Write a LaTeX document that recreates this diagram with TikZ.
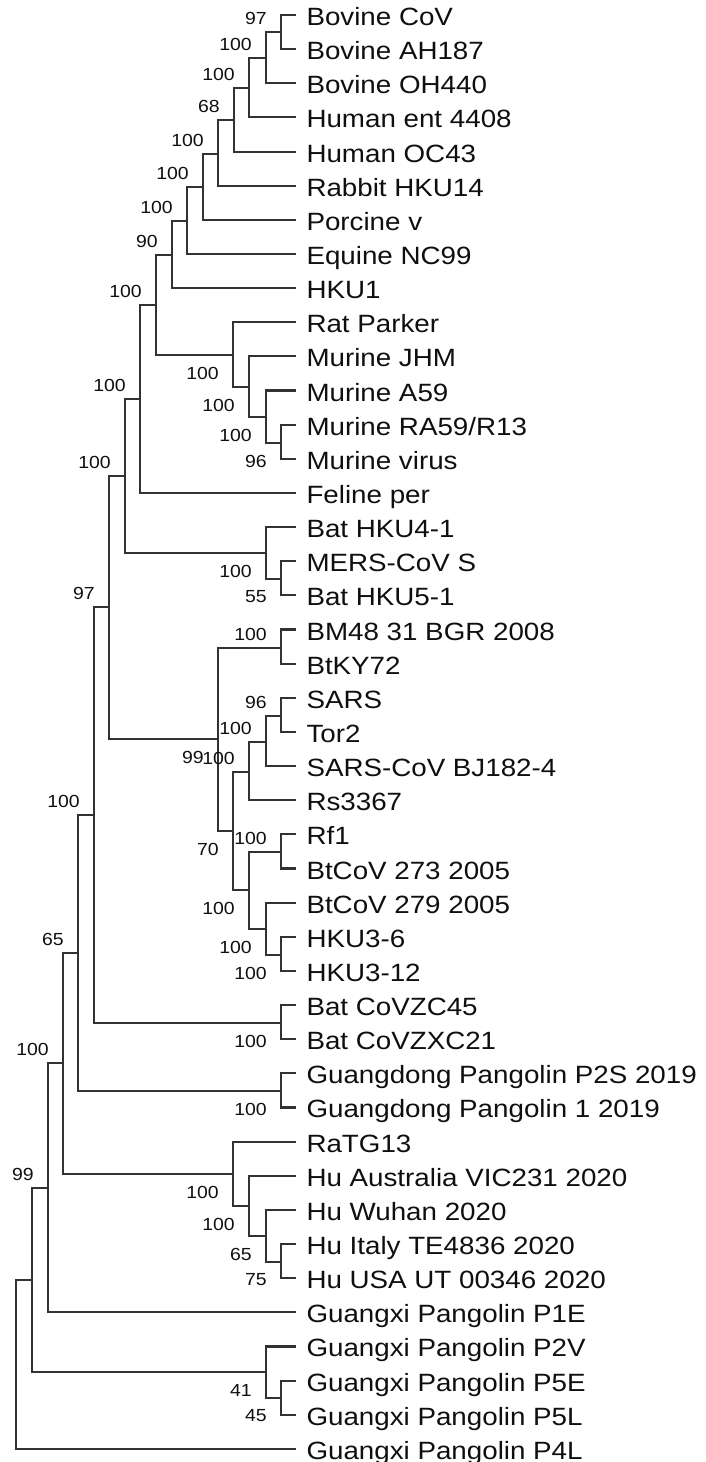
\documentclass[tikz,border=0pt]{standalone}
\usepackage{fontspec}
\setmainfont{Liberation Sans}[FakeStretch=1.11]
\definecolor{BranchGray}{RGB}{50,50,50}
\definecolor{LabelInk}{RGB}{15,15,15}
\usepackage{tikz}
\usetikzlibrary{positioning, calc}

\tikzset{
  taxon/.style={anchor=west, inner xsep=10.5pt, inner ysep=0pt, outer sep=0pt,
                text height=21pt, text depth=0pt, text=LabelInk,
                font=\fontsize{25}{30}\selectfont},
  boot/.style={anchor=east, inner sep=0pt, xshift=-14pt, text=LabelInk,
               font=\fontsize{17.5}{20}\selectfont},
  bootup/.style={boot, yshift=13.5pt},
  bootdn/.style={boot, yshift=-18pt},
  branch/.style={draw=BranchGray, line width=2.1pt}
}

\begin{document}
\begin{tikzpicture}[x=1pt, y=-1pt]
  \useasboundingbox (0,0) rectangle (706,1462);

  % taxa, one row each
  \foreach \name/\txt [count=\i] in {
      bovcov/Bovine CoV, bovah/Bovine AH187, bovoh/Bovine OH440,
      hument/Human ent 4408, humoc/Human OC43, rabbit/Rabbit HKU14,
      porcine/Porcine v, equine/Equine NC99, hkuone/HKU1,
      rat/Rat Parker, jhm/Murine JHM, afiftynine/Murine A59,
      rafiftynine/{Murine RA59/R13}, murvir/Murine virus, feline/Feline per,
      hkufour/Bat HKU4-1, mers/MERS-CoV S, hkufive/Bat HKU5-1,
      bm/BM48 31 BGR 2008, btky/BtKY72, sars/SARS, tor/Tor2,
      bj/SARS-CoV BJ182-4, rs/Rs3367, rf/Rf1, bttwo/BtCoV 273 2005,
      btnine/BtCoV 279 2005, hkusix/HKU3-6, hkutwelve/HKU3-12,
      zc/Bat CoVZC45, zxc/Bat CoVZXC21,
      gdp/Guangdong Pangolin P2S 2019, gdone/Guangdong Pangolin 1 2019,
      ratg/RaTG13, aus/Hu Australia VIC231 2020, wuhan/Hu Wuhan 2020,
      italy/Hu Italy TE4836 2020, usa/Hu USA UT 00346 2020,
      pone/Guangxi Pangolin P1E, ptwo/Guangxi Pangolin P2V,
      pfivee/Guangxi Pangolin P5E, pfivel/Guangxi Pangolin P5L,
      pfour/Guangxi Pangolin P4L}
    \node[taxon] (\name) at (296,{15+34.14*(\i-1)}) {\txt};

  % embeco clade
  \coordinate (n1) at (281,32);
  \coordinate (n2) at (266,58);
  \coordinate (n3) at (249,88);
  \coordinate (n4) at (234,120);
  \coordinate (n5) at (218,154);
  \coordinate (n6) at (203,187);
  \coordinate (n7) at (187,221);
  \coordinate (n8) at (172,255);
  % murine clade
  \coordinate (m1) at (281,443);
  \coordinate (m2) at (266,417);
  \coordinate (m3) at (249,387);
  \coordinate (m4) at (233,355);
  \coordinate (nA) at (156,305);
  \coordinate (nB) at (140,399);
  % merbeco clade
  \coordinate (k1) at (281,579);
  \coordinate (k2) at (266,553);
  \coordinate (nC) at (125,476);
  % sarbeco clade
  \coordinate (s1) at (281,648);
  \coordinate (s2) at (281,716);
  \coordinate (s3) at (266,742);
  \coordinate (s4) at (249,772);
  \coordinate (s5) at (281,852);
  \coordinate (s6) at (281,955);
  \coordinate (s7) at (266,929);
  \coordinate (s8) at (249,890);
  \coordinate (s9) at (233,831);
  \coordinate (s10) at (218,739);
  \coordinate (nD) at (109,607);
  \coordinate (z1) at (281,1023);
  \coordinate (nE) at (94,815);
  \coordinate (g1) at (281,1091);
  \coordinate (nF) at (78,953);
  % human clade
  \coordinate (h1) at (281,1262);
  \coordinate (h2) at (266,1236);
  \coordinate (h3) at (249,1206);
  \coordinate (h4) at (233,1174);
  \coordinate (nG) at (63,1063);
  \coordinate (nH) at (48,1188);
  % guangxi pangolins
  \coordinate (p1) at (281,1398);
  \coordinate (p2) at (266,1372);
  \coordinate (nI) at (32,1280);
  \coordinate (root) at (16,1364);

  % branches
  \draw[branch] (n1) |- (bovcov.west) (n1) |- (bovah.west);
  \draw[branch] (n2) |- (n1) (n2) |- (bovoh.west);
  \draw[branch] (n3) |- (n2) (n3) |- (hument.west);
  \draw[branch] (n4) |- (n3) (n4) |- (humoc.west);
  \draw[branch] (n5) |- (n4) (n5) |- (rabbit.west);
  \draw[branch] (n6) |- (n5) (n6) |- (porcine.west);
  \draw[branch] (n7) |- (n6) (n7) |- (equine.west);
  \draw[branch] (n8) |- (n7) (n8) |- (hkuone.west);
  \draw[branch] (m1) |- (rafiftynine.west) (m1) |- (murvir.west);
  \draw[branch] (m2) |- (afiftynine.west) (m2) |- (m1);
  \draw[branch] (m3) |- (jhm.west) (m3) |- (m2);
  \draw[branch] (m4) |- (rat.west) (m4) |- (m3);
  \draw[branch] (nA) |- (n8) (nA) |- (m4);
  \draw[branch] (nB) |- (nA) (nB) |- (feline.west);
  \draw[branch] (k1) |- (mers.west) (k1) |- (hkufive.west);
  \draw[branch] (k2) |- (hkufour.west) (k2) |- (k1);
  \draw[branch] (nC) |- (nB) (nC) |- (k2);
  \draw[branch] (s1) |- (bm.west) (s1) |- (btky.west);
  \draw[branch] (s2) |- (sars.west) (s2) |- (tor.west);
  \draw[branch] (s3) |- (s2) (s3) |- (bj.west);
  \draw[branch] (s4) |- (s3) (s4) |- (rs.west);
  \draw[branch] (s5) |- (rf.west) (s5) |- (bttwo.west);
  \draw[branch] (s6) |- (hkusix.west) (s6) |- (hkutwelve.west);
  \draw[branch] (s7) |- (btnine.west) (s7) |- (s6);
  \draw[branch] (s8) |- (s5) (s8) |- (s7);
  \draw[branch] (s9) |- (s4) (s9) |- (s8);
  \draw[branch] (s10) |- (s1) (s10) |- (s9);
  \draw[branch] (nD) |- (nC) (nD) |- (s10);
  \draw[branch] (z1) |- (zc.west) (z1) |- (zxc.west);
  \draw[branch] (nE) |- (nD) (nE) |- (z1);
  \draw[branch] (g1) |- (gdp.west) (g1) |- (gdone.west);
  \draw[branch] (nF) |- (nE) (nF) |- (g1);
  \draw[branch] (h1) |- (italy.west) (h1) |- (usa.west);
  \draw[branch] (h2) |- (wuhan.west) (h2) |- (h1);
  \draw[branch] (h3) |- (aus.west) (h3) |- (h2);
  \draw[branch] (h4) |- (ratg.west) (h4) |- (h3);
  \draw[branch] (nG) |- (nF) (nG) |- (h4);
  \draw[branch] (nH) |- (nG) (nH) |- (pone.west);
  \draw[branch] (p1) |- (pfivee.west) (p1) |- (pfivel.west);
  \draw[branch] (p2) |- (ptwo.west) (p2) |- (p1);
  \draw[branch] (nI) |- (nH) (nI) |- (p2);
  \draw[branch] (root) |- (nI) (root) |- (pfour.west);

  % bootstrap values
  \node[bootup] (bn1) at (n1) {97};
  \node[bootup] (bn2) at (n2) {100};
  \node[bootup] (bn3) at (n3) {100};
  \node[bootup] (bn4) at (n4) {68};
  \node[bootup] (bn5) at (n5) {100};
  \node[bootup] (bn6) at (n6) {100};
  \node[bootup] (bn7) at (n7) {100};
  \node[bootup] (bn8) at (n8) {90};
  \node[bootdn] (bm1) at (m1) {96};
  \node[bootdn] (bm2) at (m2) {100};
  \node[bootdn] (bm3) at (m3) {100};
  \node[bootdn] (bm4) at (m4) {100};
  \node[bootup] (bnA) at (nA) {100};
  \node[bootup] (bnB) at (nB) {100};
  \node[bootdn] (bk1) at (k1) {55};
  \node[bootdn] (bk2) at (k2) {100};
  \node[bootup] (bnC) at (nC) {100};
  \node[bootup] (bs1) at (s1) {100};
  \node[bootup] (bs2) at (s2) {96};
  \node[bootup] (bs3) at (s3) {100};
  \node[bootup] (bs4) at (s4) {100};
  \node[bootup] (bs5) at (s5) {100};
  \node[bootdn] (bs6) at (s6) {100};
  \node[bootdn] (bs7) at (s7) {100};
  \node[bootdn] (bs8) at (s8) {100};
  \node[bootdn] (bs9) at (s9) {70};
  \node[bootdn] (bs10) at (s10) {99};
  \node[bootup] (bnD) at (nD) {97};
  \node[bootdn] (bz1) at (z1) {100};
  \node[bootup] (bnE) at (nE) {100};
  \node[bootdn] (bg1) at (g1) {100};
  \node[bootup] (bnF) at (nF) {65};
  \node[bootdn] (bh1) at (h1) {75};
  \node[bootdn] (bh2) at (h2) {65};
  \node[bootdn] (bh3) at (h3) {100};
  \node[bootdn] (bh4) at (h4) {100};
  \node[bootup] (bnG) at (nG) {100};
  \node[bootup] (bnH) at (nH) {99};
  \node[bootdn] (bp1) at (p1) {45};
  \node[bootdn] (bp2) at (p2) {41};
\end{tikzpicture}
\end{document}
